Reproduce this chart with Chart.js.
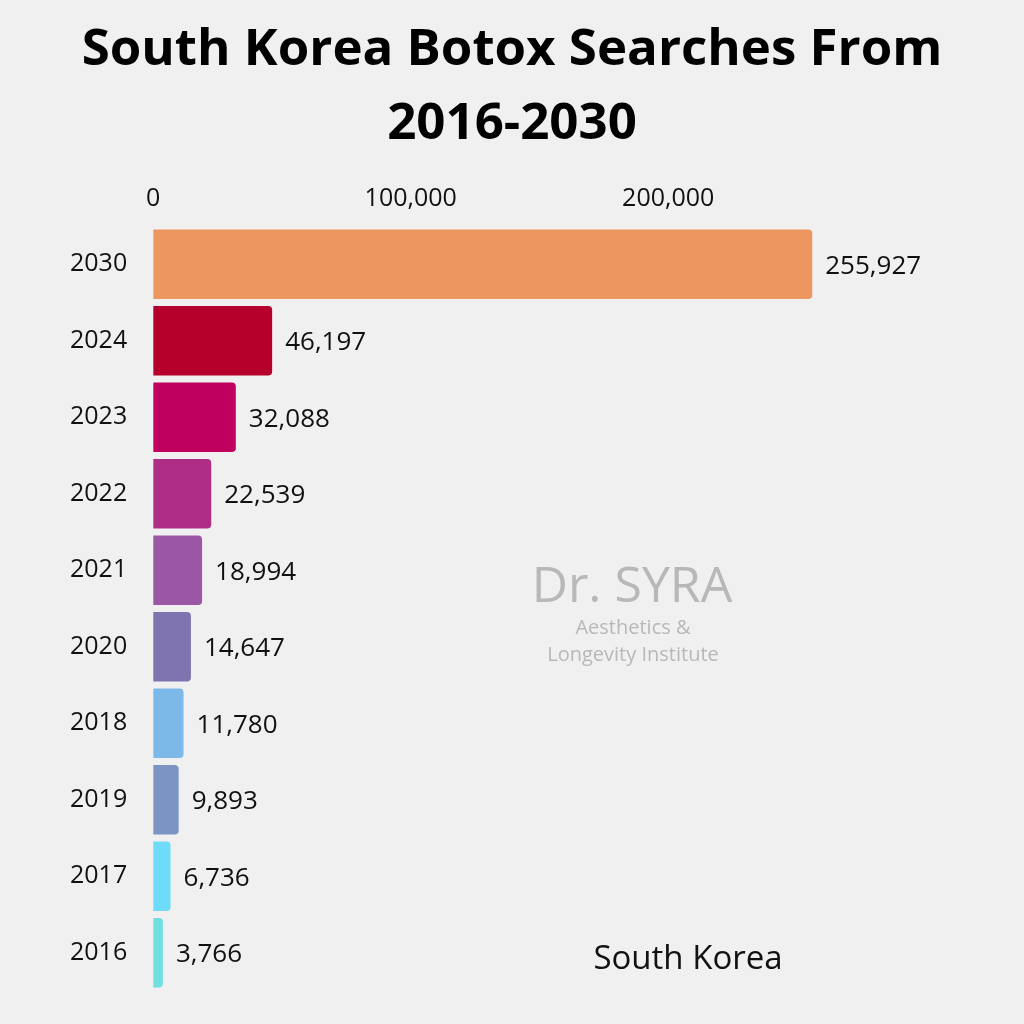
<!DOCTYPE html>
<html><head><meta charset="utf-8">
<script src="https://cdn.jsdelivr.net/npm/chart.js@4/dist/chart.umd.min.js"></script>
<style>html,body{margin:0;padding:0;background:#f0f0f0;}#w{width:1024px;height:1024px;}</style>
</head><body><div id="w"><canvas id="c"></canvas></div>
<script>
const years = ["2030","2024","2023","2022","2021","2020","2018","2019","2017","2016"];
const searches = [255927,46197,32088,22539,18994,14647,11780,9893,6736,3766];
const barColors = ["#EE9660","#B5002B","#C0005E","#B02D86","#9957A4","#7F73B0","#7DB9E8","#7B94C4","#6EDCF8","#6EE0E0"];
const titleLines = ["South Korea Botox Searches From","2016-2030"];
const xTicks = [0,100000,200000];

const extras = {
  id:'extras',
  afterDatasetsDraw(chart){
    const ctx = chart.ctx;
    const meta = chart.getDatasetMeta(0);
    ctx.save();
    ctx.fillStyle = '#000';
    ctx.textAlign = 'center';
    ctx.textBaseline = 'middle';
    ctx.font = 'bold 51px "Open Sans", sans-serif';
    ctx.fillText(titleLines[0], 512, 50);
    ctx.fillText(titleLines[1], 512, 124);
    ctx.font = '26px "Open Sans", sans-serif';
    ctx.fillStyle = '#111';
    ctx.textAlign = 'left';
    meta.data.forEach((b,i)=>{
      ctx.fillText(searches[i].toLocaleString('en-US'), b.x + 13, b.y+2);
    });
    ctx.fillStyle = '#b8b8b8';
    ctx.textAlign = 'center';
    ctx.font = '50px "Open Sans", sans-serif';
    ctx.fillText('Dr. SYRA', 632, 588);
    ctx.font = '20px "Open Sans", sans-serif';
    ctx.fillText('Aesthetics &', 633, 628);
    ctx.fillText('Longevity Institute', 633, 655);
    ctx.fillStyle = '#111';
    ctx.font = '33px "Open Sans", sans-serif';
    ctx.fillText('South Korea', 688, 960);
    ctx.restore();
  }
};

new Chart(document.getElementById('c'), {
  type:'bar',
  data:{labels:years, datasets:[{data:searches, backgroundColor:barColors, borderRadius:4, borderSkipped:'start', barPercentage:0.91, categoryPercentage:1}]},
  options:{
    indexAxis:'y', responsive:true, maintainAspectRatio:false, animation:false,
    layout:{padding:{left:52,right:124,top:180,bottom:26}},
    plugins:{legend:{display:false}, tooltip:{enabled:false}, title:{display:false}},
    scales:{
      x:{position:'top', min:0, max:290000, afterBuildTicks(a){a.ticks=xTicks.map(v=>({value:v}));},
        grid:{display:false}, border:{display:false},
        ticks:{color:'#111', font:{family:'"Open Sans", sans-serif', size:25}, padding:4, maxRotation:0, callback:v=>v.toLocaleString('en-US')}},
      y:{grid:{display:false}, border:{display:false},
        ticks:{color:'#111', font:{family:'"Open Sans", sans-serif', size:25}, padding:18}}
    }
  },
  plugins:[extras]
});
</script></body></html>
